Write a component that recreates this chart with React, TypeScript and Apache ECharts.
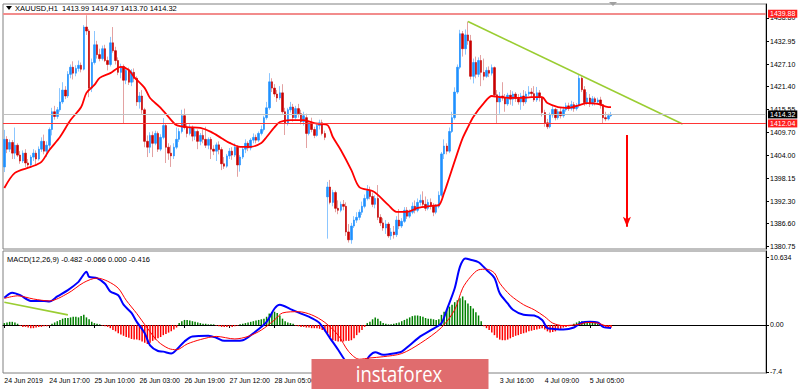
import React, { useEffect, useRef } from 'react';
import * as echarts from 'echarts';

const symbolTitle = 'XAUUSD,H1  1413.99 1414.97 1413.70 1414.32';
const macdTitle = 'MACD(12,26,9) -0.482 -0.066 0.000 -0.416';
const logoText = 'instaforex';

// [open, close, low, high] per H1 bar
const candles: number[][] = [
  [1401,1408,1399.7,1410.4],[1408,1405.5,1404.5,1408.8],[1405.5,1407.2,1404.8,1408],[1407.2,1404.5,1403,1407.8],[1404.5,1406.5,1403,1411],
  [1406.5,1404,1403.5,1407],[1404,1402.5,1401.8,1405],[1402.5,1404.5,1402,1405.2],[1404.5,1402,1401,1405.5],[1402,1401.5,1400.5,1403],
  [1401.5,1403.5,1400.8,1404],[1403.5,1404.5,1402.5,1405.5],[1404.5,1403,1401.5,1405.2],[1403,1405.5,1402.6,1406.2],[1405.5,1407.5,1404.8,1408.5],
  [1407.5,1405,1404.2,1409.2],[1405,1406.5,1403.5,1407.5],[1406.5,1410.5,1405.5,1411],[1410.5,1415,1409,1416],[1415,1413.8,1413,1416.5],
  [1413.8,1415.5,1413.2,1416.2],[1415.5,1417.5,1415,1421],[1417.5,1420.5,1417,1422.5],[1420.5,1419,1418.2,1421.5],[1419,1424.5,1418.5,1425.3],
  [1424.5,1426.3,1423.5,1427],[1426.3,1424.8,1423.2,1427.8],[1424.8,1426,1424,1426.8],[1426,1426.8,1425.2,1428],[1426.8,1425.8,1425,1427.5],
  [1425.8,1436.5,1425.5,1437],[1436.5,1435.5,1434.5,1439.5],[1435.5,1421,1418.7,1436],[1421,1427.5,1420,1428.5],[1427.5,1432,1427,1435.5],
  [1432,1429.5,1428.5,1433],[1429.5,1428.5,1427.8,1431],[1428.5,1431,1428,1431.8],[1431,1428,1427.6,1432],[1428,1427,1425.5,1429],
  [1427,1432.5,1426.5,1434],[1432.5,1430.5,1430,1436.5],[1430.5,1428,1427,1431.5],[1428,1425,1424.3,1428.8],[1425,1426.5,1423.5,1427.2],
  [1426.5,1423,1412.1,1427],[1423,1425.5,1422,1426],[1425.5,1422.5,1421.8,1426.2],[1422.5,1425,1421.5,1425.8],[1425,1423.5,1422.5,1426],
  [1423.5,1417.5,1416.5,1424],[1417.5,1419,1415.8,1420],[1419,1415.5,1414.5,1420.5],[1415.5,1407.5,1406,1416],[1407.5,1406,1403.5,1409],
  [1406,1409,1404.5,1409.8],[1409,1407,1403.5,1410],[1407,1409.5,1406.5,1410.2],[1409.5,1405.5,1404.8,1410],[1405.5,1408.5,1405,1409.3],
  [1408.5,1411.5,1408,1413.4],[1411.5,1406,1402,1412],[1406,1404.5,1402.8,1407],[1404.5,1403.8,1401,1406.5],[1403.8,1406,1403,1407],
  [1406,1408,1405.5,1411],[1408,1410,1407.3,1410.8],[1410,1414,1409.5,1415.5],[1414,1411,1410.5,1415.8],[1411,1409.5,1408.5,1412],
  [1409.5,1411,1409,1411.8],[1411,1408.8,1407.5,1411.5],[1408.8,1410,1407.8,1410.8],[1410,1407.5,1405.5,1410.5],[1407.5,1409,1406.5,1409.6],
  [1409,1408,1407,1410.5],[1408,1406.5,1405.8,1411.2],[1406.5,1408,1405.5,1408.5],[1408,1405.5,1403,1408.6],[1405.5,1405,1404,1406.5],
  [1405,1406.6,1402.5,1407.2],[1406.6,1405.4,1404.2,1407.5],[1405.4,1401.8,1400.2,1406],[1401.8,1401.2,1400.5,1403.5],[1401.2,1403.8,1400.8,1404.3],
  [1403.8,1405,1403,1405.8],[1405,1404,1402.8,1406],[1404,1406,1403.5,1407],[1406,1401.5,1398.5,1406.5],[1401.5,1403.5,1399.8,1404],
  [1403.5,1405.5,1403,1406.2],[1405.5,1407,1404.5,1408],[1407,1405.8,1405,1407.5],[1405.8,1407.8,1405.2,1408.3],[1407.8,1408.5,1407,1409.5],
  [1408.5,1407.8,1407,1409.2],[1407.8,1409.5,1407.3,1410],[1409.5,1410.5,1409,1411.5],[1410.5,1413.5,1410,1414],[1413.5,1416,1413,1417.5],
  [1416,1422.6,1415.5,1424.8],[1422.6,1421,1420,1423.5],[1421,1419.5,1418.8,1422],[1419.5,1418.5,1417.5,1420.5],[1418.5,1419.8,1418,1421.5],
  [1419.8,1415,1414.5,1422],[1415,1412,1409.1,1416],[1412,1415.5,1411.5,1416],[1415.5,1416.2,1414.8,1417.5],[1416.2,1413.5,1412.5,1417],
  [1413.5,1415.8,1413,1416.5],[1415.8,1414.5,1413.5,1417],[1414.5,1412.5,1411.8,1415.5],[1412.5,1414,1411.5,1415],[1413.5,1409.5,1405.8,1414.5],
  [1409.5,1412,1409,1412.5],[1412,1410.5,1409.8,1413.5],[1410.5,1409,1408.3,1411.2],[1409,1411.5,1408.7,1412],[1411.5,1412.2,1410.5,1413],
  [1412.2,1409.5,1409,1413],[1409.5,1408.5,1407.8,1410.2],[1393.4,1395.9,1382.8,1397.2],[1395.9,1392,1391.5,1397.7],[1392,1394.5,1391,1395.2],
  [1394.5,1390.5,1389.5,1395],[1390.5,1390,1389,1392.5],[1390,1391.5,1389.5,1392.2],[1391.5,1391,1390,1392.6],[1391,1384.5,1383.5,1392],
  [1384.5,1382.5,1381.8,1386.5],[1382.5,1386,1381.5,1386.8],[1386,1387.5,1385.5,1388.5],[1387.5,1388.2,1386.8,1389.5],[1388.2,1389.5,1387.5,1390.2],
  [1389.5,1391,1388.8,1392.2],[1391,1393,1390.5,1394],[1393,1395,1392.5,1396.4],[1395,1393.5,1392.8,1396],[1393.5,1391.5,1390.8,1394.5],
  [1391.5,1393,1390.5,1393.8],[1393,1388.2,1387.5,1396.4],[1388.2,1386.8,1386,1389],[1386.8,1385.5,1384.8,1388],[1385.5,1386.5,1384,1387.5],
  [1386.5,1383.5,1383,1387],[1383.5,1384.5,1382.5,1385.5],[1384.5,1383.8,1382.8,1386],[1383.8,1387.5,1383.2,1388.5],[1387.5,1386,1385.2,1390.3],
  [1386,1387.2,1385.5,1388],[1387.2,1390,1386.8,1390.8],[1390,1388.5,1387.8,1390.8],[1388.5,1389.5,1388,1390.2],[1389.5,1391,1389,1392],
  [1391,1390,1389.2,1392.5],[1390,1392,1389.5,1393],[1392,1392.5,1391.2,1394],[1392.5,1391.5,1390.8,1394.8],[1391.5,1390.5,1389.8,1393.5],
  [1390.5,1392,1390,1392.8],[1392,1391,1390.2,1393],[1391,1389.5,1388.5,1391.8],[1389.5,1391,1389,1391.6],[1391,1393.8,1390.5,1394.8],
  [1393.8,1404.3,1393.3,1404.8],[1404.3,1406.3,1403,1408],[1406.3,1405,1404.2,1407],[1405,1410,1404.5,1411],[1410,1413.5,1409.6,1415],
  [1413.5,1420,1413,1421.2],[1420,1426.3,1419.5,1427],[1426.3,1434.8,1425.8,1435.8],[1434.8,1431,1429,1435.5],[1431,1434.5,1429.5,1435.9],
  [1434.5,1433,1432,1437.9],[1433,1424,1423.2,1434.5],[1424,1427.5,1422.2,1428.5],[1427.5,1424.5,1423.5,1429],[1424.5,1428,1423.8,1428.8],
  [1428,1425,1421.5,1429.4],[1425,1424,1423,1428.5],[1424,1425.5,1423.6,1426.3],[1425.5,1424.8,1423.8,1426.5],[1424.8,1426.2,1424.2,1427],
  [1426.2,1419.3,1418.7,1426.5],[1419.3,1417.5,1412.1,1420.5],[1417.5,1419,1414.5,1420],[1419,1418.5,1417.8,1422.5],[1418.5,1417,1415,1419.5],
  [1417,1419.2,1416.5,1419.8],[1419.2,1418.2,1416.8,1420.5],[1418.2,1419.5,1416.5,1420.2],[1419.5,1418.4,1417.5,1420],[1418.4,1417.5,1416.8,1419.5],
  [1417.5,1419,1415.5,1419.8],[1419,1417.5,1416.5,1420.5],[1417.5,1419.5,1417,1420.2],[1419.5,1420,1419,1421.5],[1420,1419.6,1418.5,1421],
  [1419.6,1418,1417.5,1421.5],[1418,1419.8,1417.5,1421.3],[1419.8,1418.6,1417.6,1420.5],[1418.6,1414.8,1413.8,1419],[1414.8,1412.2,1411.2,1415.5],
  [1412.2,1411.2,1410.6,1413.2],[1411.2,1414.2,1410.8,1414.8],[1414.2,1415.6,1413.5,1416.4],[1415.6,1413.5,1412.8,1416],[1413.5,1415,1413,1415.7],
  [1415,1414,1413.3,1416],[1414,1415.5,1413.5,1416.3],[1415.5,1416.5,1415,1417.3],[1416.5,1415.8,1415.2,1417.3],[1415.8,1416.8,1415.3,1417.8],
  [1416.8,1415.8,1415,1417.5],[1415.8,1416.5,1415.3,1417.2],[1416.5,1423.5,1416,1424.3],[1423.5,1420.6,1420,1424],[1420.6,1417.3,1416.5,1421.5],
  [1417.3,1418.5,1416.8,1420],[1418.5,1417,1416.2,1419.5],[1417,1418.3,1416.5,1419],[1418.3,1417.5,1416.6,1418.8],[1417.5,1418,1416.8,1418.6],
  [1418,1416.8,1415.8,1418.8],[1416.8,1413.5,1412.1,1417],[1413.5,1413.2,1412.6,1415],[1413.2,1414,1412.8,1414.5],[1413.99,1414.32,1413.7,1414.97],
];

// moving average read at key bars: [bar, price]
const maPoints: number[][] = [
  [0,1395.65],[4,1399.5],[10,1401.0],[14,1402.3],[17,1405.3],[21,1408.6],[25,1412.9],[29,1416.2],[31,1419.8],[34,1421.8],
  [36,1423.6],[40,1424.8],[44,1426.4],[47,1425.6],[49,1423.8],[53,1421.0],[55,1418.5],[59,1416.0],[63,1412.9],[65,1411.6],
  [69,1411.1],[74,1410.9],[78,1409.9],[82,1408.3],[85,1407.1],[89,1406.1],[93,1406.1],[97,1407.1],[99,1408.6],[102,1411.1],
  [104,1412.4],[108,1412.9],[113,1412.9],[117,1412.1],[119,1411.9],[122,1411.6],[124,1408.6],[127,1405.3],[131,1400.2],[134,1395.9],
  [139,1394.9],[141,1393.9],[145,1391.3],[148,1389.6],[152,1389.6],[156,1390.6],[161,1391.1],[164,1391.3],[166,1394.4],[168,1398.4],
  [171,1404.5],[173,1408.3],[175,1411.1],[177,1413.7],[181,1417.2],[184,1419.0],[187,1418.7],[191,1418.5],[195,1418.5],[199,1418.7],
  [203,1418.7],[205,1417.2],[209,1416.2],[213,1416.0],[217,1416.7],[220,1417.2],[224,1417.0],[228,1416.2],[229,1416.2],
];

// MACD main line (blue), read at key bars
const macdPoints: number[][] = [
  [0,4.3],[3,5.1],[6,4.7],[10,3.8],[15,3.8],[17,3.7],[20,4.5],[24,5.5],[28,6.8],[29,7.4],[31,8.4],[32,7.6],[35,7.4],[38,6.5],
  [40,5.3],[43,4.7],[45,3.2],[48,1.9],[50,0.5],[53,-1.3],[55,-3.2],[58,-4.1],[60,-4.2],[63,-4.5],[65,-3.9],[68,-2.6],[71,-1.8],
  [77,-1.7],[80,-2.0],[83,-2.5],[87,-2.5],[90,-2.4],[94,-1.3],[99,0.5],[102,2.6],[104,3.2],[108,2.5],[112,1.8],[116,1.1],[119,0.3],
  [123,-2.1],[126,-3.9],[128,-5.2],[130,-6.3],[133,-7.0],[136,-6.0],[138,-4.8],[140,-4.3],[143,-4.7],[148,-4.4],[150,-4.2],[153,-3.2],
  [157,-1.8],[161,-0.8],[165,0.3],[167,2.4],[170,5.8],[172,9.2],[174,10.5],[176,10.3],[179,9.9],[182,8.7],[185,7.4],[187,5.0],
  [190,3.4],[192,2.4],[196,1.6],[200,1.5],[203,0.8],[205,-0.5],[207,-0.6],[211,-0.7],[215,-0.4],[218,0.4],[221,0.5],[224,0.4],
  [226,-0.3],[229,-0.482],
];

// MACD signal line (red), read at key bars
const signalPoints: number[][] = [
  [0,4.2],[5,4.6],[11,4.1],[17,3.8],[24,5.0],[30,6.7],[35,7.4],[39,6.9],[43,5.8],[46,3.9],[50,1.8],[54,-0.5],[58,-2.6],[62,-3.7],
  [65,-3.9],[69,-3.0],[74,-2.3],[80,-1.8],[87,-2.2],[92,-1.8],[97,-0.8],[102,0.8],[105,1.9],[111,2.1],[116,1.6],[121,0.4],
  [126,-1.6],[130,-4.2],[134,-5.4],[138,-5.2],[143,-5.0],[150,-4.5],[157,-2.9],[165,-0.4],[170,2.4],[173,5.8],[176,7.6],
  [179,8.7],[182,8.8],[185,8.2],[187,6.6],[191,4.7],[196,3.2],[200,2.4],[204,1.3],[207,0.3],[211,-0.1],[217,0.1],[220,0.4],
  [224,0.3],[228,-0.2],[229,-0.066],
];

// MACD histogram per bar
const histogram: number[] = [
  0.3,0.4,0.5,0.5,0.4,0.2,
  -0.1,-0.3,-0.3,-0.4,
  -0.5,-0.5,-0.4,-0.3,-0.3,
  -0.2,-0.2,-0.1,
  0.2,0.4,0.6,0.8,
  1.0,1.1,1.1,1.2,1.3,1.3,1.2,1.4,1.6,
  1.2,0.9,0.5,
  0.3,0.2,0.1,
  -0.1,-0.2,-0.3,
  -0.5,-0.8,-1.0,-1.3,-1.5,-1.7,
  -1.9,-2.0,-2.2,-2.3,-2.3,-2.4,-2.6,-2.8,-3.0,-2.8,-2.5,-2.3,-2.1,-1.9,-1.6,-1.4,-1.2,-1.0,-0.7,-0.4,
  0.3,0.6,0.8,0.8,0.7,0.6,0.5,0.4,0.3,
  0.2,0.2,0.1,0.1,0.1,
  -0.1,-0.2,-0.3,-0.3,-0.3,-0.2,-0.3,-0.2,-0.1,
  0.1,0.2,0.3,0.4,0.5,0.6,0.7,0.8,0.9,1.0,
  1.3,1.8,2.0,2.1,1.9,1.5,1.0,
  0.6,0.4,0.3,0.2,
  -0.1,-0.2,-0.3,-0.3,-0.4,-0.4,-0.5,-0.5,-0.5,-0.6,-0.8,-1.0,-1.3,-1.9,-2.4,-2.5,-2.6,-2.6,-2.6,-2.5,-2.5,-2.4,-2.1,-1.6,-1.2,-0.8,-0.3,
  0.3,0.5,0.9,1.2,1.0,0.6,
  0.3,0.2,0.1,0.1,0.2,
  0.3,0.4,
  0.6,0.8,1.0,1.2,1.4,1.5,1.5,1.4,1.3,1.1,1.0,1.0,0.9,0.8,0.9,
  1.6,2.1,2.5,2.9,3.2,3.6,3.9,4.2,4.5,3.9,3.4,3.0,2.6,2.0,1.5,0.6,
  -0.2,-0.5,-0.8,-1.2,-1.6,-2.0,-2.3,-2.4,-2.4,-2.3,-2.1,-1.9,-1.7,-1.6,-1.4,-1.3,-1.2,-1.0,-0.9,-0.8,
  -0.7,-0.6,-0.5,-0.7,-1.0,-1.2,-1.1,-1.0,-0.8,-0.6,-0.4,-0.3,-0.2,-0.1,
  0.2,0.4,0.6,0.6,0.5,0.5,0.4,0.4,0.3,0.2,
  -0.1,-0.2,-0.3,-0.4,-0.416,
];

const priceTicks = [1438.80, 1432.95, 1427.10, 1421.40, 1415.55, 1409.70, 1404.00, 1398.15, 1392.30, 1386.60, 1380.75];
const macdTicks = [10.634, 0, -7.4];
const macdTickLabels = ['10.634', '0.00', '-7.4'];
const timeLabelBars = [0, 17, 34, 51, 68, 85, 102, 187, 204, 221];
const timeLabels = ['24 Jun 2019', '24 Jun 17:00', '25 Jun 10:00', '26 Jun 03:00', '26 Jun 19:00', '27 Jun 12:00', '28 Jun 05:00', '3 Jul 16:00', '4 Jul 09:00', '5 Jul 05:00'];
const levelHigh = 1439.88;
const levelBid = 1414.32;
const levelLow = 1412.04;
const priceTrend: number[][] = [[175, 1437.9], [256, 1411.9]];
const macdTrend: number[][] = [[0, 3.6], [24, 1.6]];
const arrowPoints: number[][] = [[235, 1409.1], [235, 1385.8]];

const SLOTS = 288;
const FONT = '"Liberation Sans", Arial, sans-serif';

export default function App() {
  const ref = useRef<HTMLDivElement>(null);
  useEffect(() => {
    if (!ref.current) return;
    const chart = echarts.init(ref.current, undefined, { renderer: 'svg' });
    const cats = Array.from({ length: SLOTS }, (_, i) => String(i));
    const isLabelBar = (i: number) => timeLabelBars.indexOf(i) >= 0;
    const levelLabel = (v: number, bg: string) => ({
      show: true, position: 'end', formatter: v.toFixed(2), backgroundColor: bg, color: '#fff',
      padding: [1, 2, 0, 2], fontSize: 7, fontFamily: FONT, distance: 2,
    });
    chart.setOption({
      animation: false,
      backgroundColor: '#ffffff',
      grid: [
        { left: 3, top: 4, width: 763, height: 245, show: true, borderColor: '#808080', borderWidth: 1 },
        { left: 3, top: 251, width: 763, height: 122, show: true, borderColor: '#808080', borderWidth: 1 },
      ],
      xAxis: [
        { type: 'category', gridIndex: 0, data: cats, boundaryGap: true, axisLine: { show: false }, axisTick: { show: false }, axisLabel: { show: false }, splitLine: { show: false } },
        {
          type: 'category', gridIndex: 1, data: cats, boundaryGap: true,
          axisLine: { show: true, lineStyle: { color: '#000', width: 1 } },
          axisTick: { show: true, interval: (i: number) => isLabelBar(i), alignWithLabel: true, length: 3, lineStyle: { color: '#000' } },
          axisLabel: {
            interval: (i: number) => isLabelBar(i),
            formatter: (_v: string, i: number) => { const k = timeLabelBars.indexOf(i); return k >= 0 ? timeLabels[k] : ''; },
            align: 'left', fontSize: 7, margin: 4, color: '#000', fontFamily: FONT,
          },
          splitLine: { show: false },
        },
      ],
      yAxis: [
        {
          type: 'value', gridIndex: 0, position: 'right', min: 1380.17, max: 1442.35, scale: true,
          splitLine: { show: false },
          axisLine: { show: true, onZero: false, lineStyle: { color: '#000' } },
          axisTick: { show: true, length: 3, customValues: priceTicks, lineStyle: { color: '#000' } },
          axisLabel: { customValues: priceTicks, formatter: (v: number) => v.toFixed(2), fontSize: 7, margin: 4, color: '#000', fontFamily: FONT },
        },
        {
          type: 'value', gridIndex: 1, position: 'right', min: -7.57, max: 11.67,
          splitLine: { show: false },
          axisLine: { show: true, onZero: false, lineStyle: { color: '#000' } },
          axisTick: { show: true, length: 3, customValues: macdTicks, lineStyle: { color: '#000' } },
          axisLabel: {
            customValues: macdTicks,
            formatter: (v: number) => { const k = macdTicks.indexOf(v); return k >= 0 ? macdTickLabels[k] : ''; },
            fontSize: 7, margin: 4, color: '#000', fontFamily: FONT,
          },
        },
      ],
      series: [
        {
          type: 'candlestick', name: 'range', xAxisIndex: 0, yAxisIndex: 0, silent: true,
          data: candles.map(([o, c, l, h]) => [o, c, l, h]),
          barWidth: 1,
          itemStyle: { color: '#8CC6FF', color0: '#E3A2A2', borderColor: '#8CC6FF', borderColor0: '#E3A2A2', borderWidth: 1 },
        },
        {
          type: 'candlestick', name: 'body', xAxisIndex: 0, yAxisIndex: 0, silent: true,
          data: candles.map(([o, c]) => [o, c, Math.min(o, c), Math.max(o, c)]),
          barWidth: 2,
          itemStyle: { color: '#1E90FF', color0: '#C80000', borderColor: '#1E90FF', borderColor0: '#C80000', borderWidth: 0.6 },
          markLine: {
            silent: true, symbol: ['none', 'none'], animation: false,
            data: [
              { yAxis: levelHigh, lineStyle: { color: '#F28C8C', width: 2, type: 'solid' }, label: levelLabel(levelHigh, '#FF1E1E') },
              { yAxis: levelBid, lineStyle: { color: '#C0C0C0', width: 1, type: 'solid' }, label: levelLabel(levelBid, '#000000') },
              { yAxis: levelLow, lineStyle: { color: '#FF3535', width: 1, type: 'solid' }, label: levelLabel(levelLow, '#FF1E1E') },
            ],
          },
        },
        {
          type: 'line', name: 'MA', xAxisIndex: 0, yAxisIndex: 0, data: maPoints, smooth: 0.3,
          showSymbol: false, silent: true, lineStyle: { color: '#FF0000', width: 1.8 },
          markLine: {
            silent: true, animation: false, label: { show: false },
            lineStyle: { color: '#FF0000', width: 2, type: 'solid' },
            data: [[{ coord: arrowPoints[0], symbol: 'none' }, { coord: arrowPoints[1], symbol: 'arrow', symbolSize: [6, 10] }]],
          },
        },
        {
          type: 'line', name: 'trend', xAxisIndex: 0, yAxisIndex: 0, data: priceTrend,
          showSymbol: false, silent: true, lineStyle: { color: '#9ACD32', width: 1.6 },
        },
        {
          type: 'bar', name: 'hist', xAxisIndex: 1, yAxisIndex: 1, silent: true, barWidth: 1.5,
          data: histogram.map((v) => ({ value: v, itemStyle: { color: v >= 0 ? '#008000' : '#FF0000' } })),
        },
        {
          type: 'line', name: 'macd', xAxisIndex: 1, yAxisIndex: 1, data: macdPoints, smooth: 0.3,
          showSymbol: false, silent: true, lineStyle: { color: '#0000FF', width: 2 },
        },
        {
          type: 'line', name: 'signal', xAxisIndex: 1, yAxisIndex: 1, data: signalPoints, smooth: 0.3,
          showSymbol: false, silent: true, lineStyle: { color: '#FF0000', width: 1 },
        },
        {
          type: 'line', name: 'macdTrend', xAxisIndex: 1, yAxisIndex: 1, data: macdTrend,
          showSymbol: false, silent: true, lineStyle: { color: '#9ACD32', width: 1.6 },
        },
      ],
      graphic: [
        { type: 'polygon', z: 50, shape: { points: [[6, 6], [12, 6], [9, 10]] }, style: { fill: '#000' } },
        { type: 'text', z: 50, x: 15, y: 8.5, style: { text: symbolTitle, fontSize: 7.5, fontFamily: FONT, fill: '#000', textVerticalAlign: 'middle' } },
        { type: 'text', z: 50, x: 7, y: 259, style: { text: macdTitle, fontSize: 7.5, fontFamily: FONT, fill: '#000', textVerticalAlign: 'middle' } },
        { type: 'polygon', z: 50, shape: { points: [[609, 2], [617, 2], [613, 6]] }, style: { fill: '#A0A0A0' } },
        { type: 'rect', z: 100, shape: { x: 311.5, y: 359, width: 177, height: 30 }, style: { fill: '#E06C6E' } },
        { type: 'text', z: 101, x: 399, y: 374, scaleX: 0.88, style: { text: logoText, fontSize: 21, fontFamily: '"Open Sans", "Noto Sans", sans-serif', fill: '#ffffff', textAlign: 'center', textVerticalAlign: 'middle' } },
      ],
    });
    return () => chart.dispose();
  }, []);
  return <div ref={ref} style={{ position: 'fixed', left: 0, top: 0, width: 800, height: 390 }} />;
}
